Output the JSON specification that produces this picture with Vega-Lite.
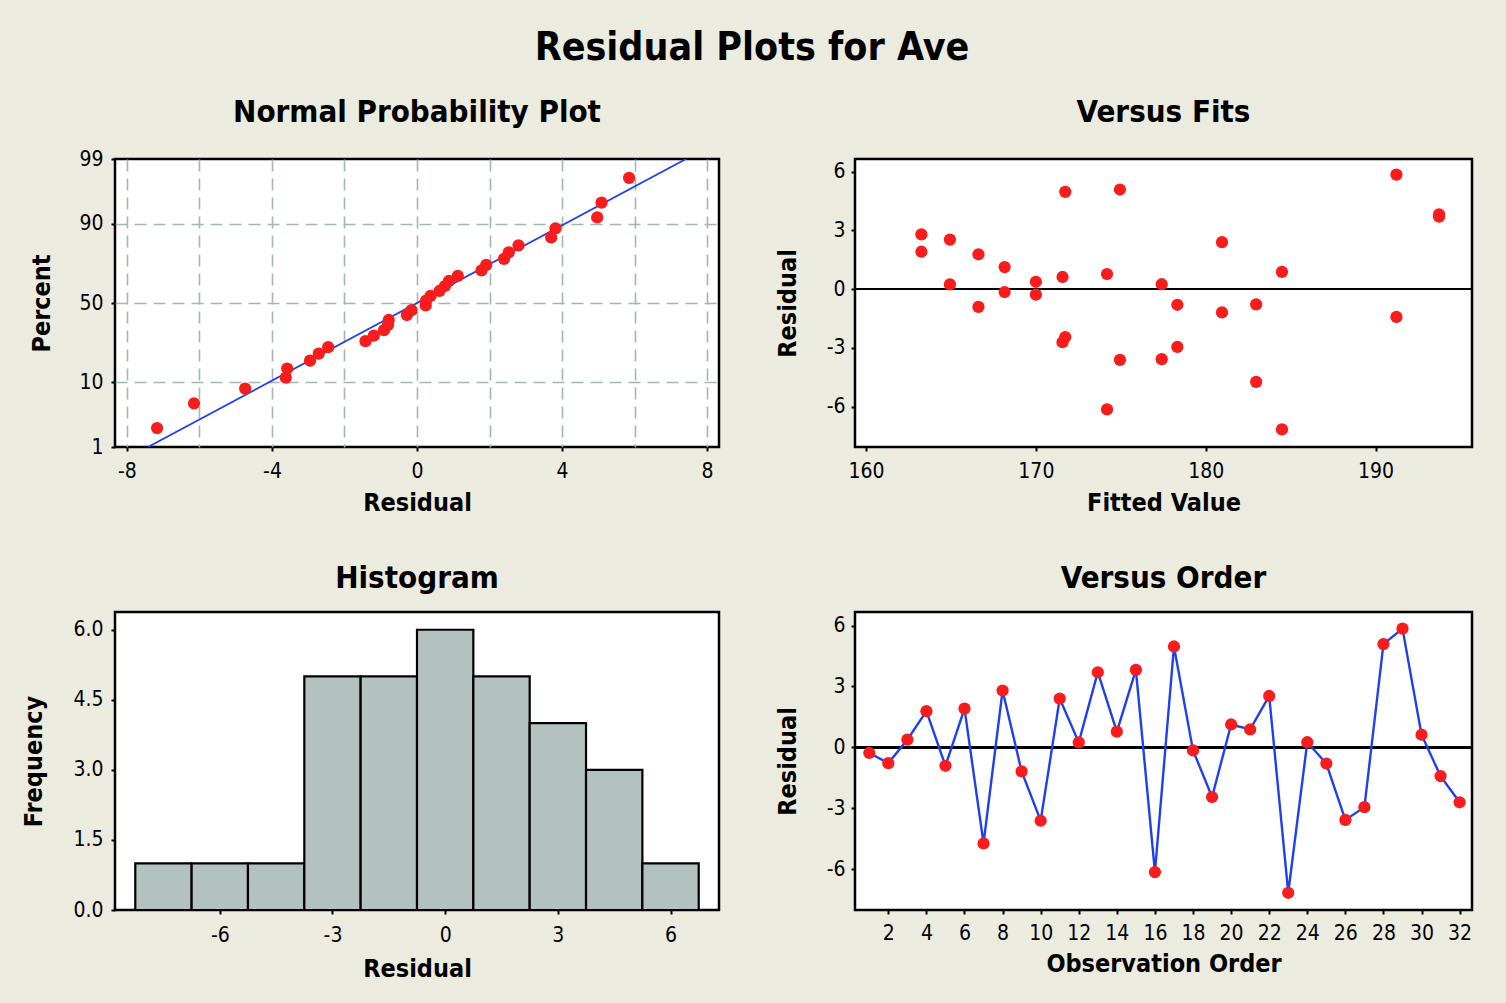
{
  "$schema": "https://vega.github.io/schema/vega-lite/v6.json",
  "background": "#ECEBE0",
  "padding": {"left": 19, "top": 28, "right": 34, "bottom": 22},
  "title": {"text": "Residual Plots for Ave", "fontSize": 39, "fontWeight": "bold", "color": "#000000", "anchor": "middle", "frame": "group", "baseline": "alphabetic", "offset": -3, "dx": 637},
  "config": {
    "font": "DejaVu Sans Condensed, DejaVu Sans, sans-serif",
    "view": {"stroke": "#000000", "strokeWidth": 2.5, "fill": "#FFFFFF"},
    "axis": {"domain": false, "grid": false, "ticks": true, "tickColor": "#000000", "tickSize": 4, "tickWidth": 2, "labelFontSize": 21, "labelColor": "#000000", "titleFontSize": 25, "titleFontWeight": "bold", "titleColor": "#000000", "labelFontWeight": "normal"},
    "axisBottom": {"labelBaseline": "alphabetic", "titleBaseline": "alphabetic"},
    "axisLeft": {"labelPadding": 8, "titleBaseline": "alphabetic", "titleAngle": -90},
    "title": {"fontSize": 31, "fontWeight": "bold", "color": "#000000", "frame": "group", "anchor": "middle", "baseline": "alphabetic"}
  },
  "datasets": {
    "resid": [
      {"order": 1, "fit": 170.0, "residual": -0.28, "score": -0.194},
      {"order": 2, "fit": 182.97, "residual": -0.78, "score": -0.274},
      {"order": 3, "fit": 170.0, "residual": 0.375, "score": 0.116},
      {"order": 4, "fit": 166.62, "residual": 1.78, "score": 0.526},
      {"order": 5, "fit": 166.62, "residual": -0.91, "score": -0.439},
      {"order": 6, "fit": 163.26, "residual": 1.91, "score": 0.617},
      {"order": 7, "fit": 182.97, "residual": -4.74, "score": -1.383},
      {"order": 8, "fit": 163.26, "residual": 2.8, "score": 0.931},
      {"order": 9, "fit": 180.96, "residual": -1.19, "score": -0.526},
      {"order": 10, "fit": 174.95, "residual": -3.62, "score": -1.205},
      {"order": 11, "fit": 180.96, "residual": 2.4, "score": 0.714},
      {"order": 12, "fit": 164.94, "residual": 0.24, "score": -0.039},
      {"order": 13, "fit": 193.74, "residual": 3.7, "score": 1.058},
      {"order": 14, "fit": 174.19, "residual": 0.77, "score": 0.274},
      {"order": 15, "fit": 193.74, "residual": 3.82, "score": 1.205},
      {"order": 16, "fit": 174.19, "residual": -6.15, "score": -1.621},
      {"order": 17, "fit": 171.73, "residual": 4.97, "score": 1.383},
      {"order": 18, "fit": 168.16, "residual": -0.15, "score": -0.116},
      {"order": 19, "fit": 171.73, "residual": -2.45, "score": -0.714},
      {"order": 20, "fit": 168.16, "residual": 1.125, "score": 0.439},
      {"order": 21, "fit": 184.49, "residual": 0.88, "score": 0.356},
      {"order": 22, "fit": 164.94, "residual": 2.53, "score": 0.818},
      {"order": 23, "fit": 184.49, "residual": -7.17, "score": -2.021},
      {"order": 24, "fit": 177.41, "residual": 0.25, "score": 0.039},
      {"order": 25, "fit": 178.33, "residual": -0.8, "score": -0.356},
      {"order": 26, "fit": 177.41, "residual": -3.58, "score": -1.058},
      {"order": 27, "fit": 178.33, "residual": -2.95, "score": -0.931},
      {"order": 28, "fit": 174.95, "residual": 5.09, "score": 1.621},
      {"order": 29, "fit": 191.23, "residual": 5.85, "score": 2.021},
      {"order": 30, "fit": 171.57, "residual": 0.62, "score": 0.194},
      {"order": 31, "fit": 191.23, "residual": -1.42, "score": -0.617},
      {"order": 32, "fit": 171.57, "residual": -2.71, "score": -0.818}
    ],
    "fitline": [
      {"residual": -7.42, "score": -2.326},
      {"residual": 7.42, "score": 2.326}
    ],
    "hist": [
      {"bin_start": -8.25, "bin_end": -6.75, "count": 1},
      {"bin_start": -6.75, "bin_end": -5.25, "count": 1},
      {"bin_start": -5.25, "bin_end": -3.75, "count": 1},
      {"bin_start": -3.75, "bin_end": -2.25, "count": 5},
      {"bin_start": -2.25, "bin_end": -0.75, "count": 5},
      {"bin_start": -0.75, "bin_end": 0.75, "count": 6},
      {"bin_start": 0.75, "bin_end": 2.25, "count": 5},
      {"bin_start": 2.25, "bin_end": 3.75, "count": 4},
      {"bin_start": 3.75, "bin_end": 5.25, "count": 3},
      {"bin_start": 5.25, "bin_end": 6.75, "count": 1}
    ]
  },
  "bounds": "flush",
  "columns": 2,
  "spacing": {"row": 165, "column": 136},
  "concat": [
    {
      "width": 604,
      "height": 288,
      "title": {"text": "Normal Probability Plot", "offset": 19},
      "layer": [
        {
          "data": {"name": "fitline"},
          "mark": {"type": "line", "color": "#2040F0", "strokeWidth": 1.8, "clip": true},
          "encoding": {
            "x": {"field": "residual", "type": "quantitative", "scale": {"domain": [-8.33, 8.33], "nice": false, "zero": false},
              "axis": {"title": "Residual", "values": [-8, -6, -4, -2, 0, 2, 4, 6, 8], "grid": true, "gridDash": [12, 7], "gridColor": "#A6B4B4", "gridWidth": 1.6,
                "labelExpr": "datum.value % 4 === 0 ? '' + datum.value : ''",
                "tickOpacity": {"condition": {"test": "datum.value % 4 === 0", "value": 1}, "value": 0},
                "labelPadding": 26, "titleY": 63}},
            "y": {"field": "score", "type": "quantitative", "scale": {"domain": [-2.326, 2.326], "nice": false, "zero": false},
              "axis": {"title": "Percent", "values": [-2.326, -1.2816, 0, 1.2816, 2.326], "grid": true, "gridDash": [12, 7], "gridColor": "#A6B4B4", "gridWidth": 1.6,
                "gridOpacity": {"condition": {"test": "abs(datum.value) < 2", "value": 1}, "value": 0},
                "labelExpr": "datum.value < -2 ? '1' : datum.value < -1 ? '10' : datum.value < 1 ? '50' : datum.value < 2 ? '90' : '99'",
                "titleX": -66}}
          }
        },
        {
          "data": {"name": "resid"},
          "mark": {"type": "circle", "color": "#F81C1C", "opacity": 1, "size": 150},
          "encoding": {
            "x": {"field": "residual", "type": "quantitative"},
            "y": {"field": "score", "type": "quantitative"}
          }
        }
      ]
    },
    {
      "width": 617,
      "height": 288,
      "title": {"text": "Versus Fits", "offset": 30},
      "data": {"name": "resid"},
      "layer": [
        {
          "mark": {"type": "rule", "color": "#000000", "strokeWidth": 2},
          "encoding": {"y": {"datum": 0}}
        },
        {
          "mark": {"type": "circle", "color": "#F81C1C", "opacity": 1, "size": 150},
          "encoding": {
            "x": {"field": "fit", "type": "quantitative", "scale": {"domain": [159.35, 195.68], "nice": false, "zero": false},
              "axis": {"title": "Fitted Value", "values": [160, 170, 180, 190], "labelPadding": 26, "titleY": 63}},
            "y": {"field": "residual", "type": "quantitative", "scale": {"domain": [-8.07, 6.65], "nice": false, "zero": false},
              "axis": {"title": "Residual", "values": [-6, -3, 0, 3, 6], "labelExpr": "'' + datum.value", "labelPadding": 6, "titleX": -60}}
          }
        }
      ]
    },
    {
      "width": 604,
      "height": 298,
      "title": {"text": "Histogram", "offset": 17},
      "data": {"name": "hist"},
      "mark": {"type": "rect", "fill": "#B4C2BF", "stroke": "#000000", "strokeWidth": 2.2},
      "encoding": {
        "x": {"field": "bin_start", "type": "quantitative", "scale": {"domain": [-8.79, 7.29], "nice": false, "zero": false},
          "axis": {"title": "Residual", "values": [-6, -3, 0, 3, 6], "labelExpr": "'' + datum.value", "labelPadding": 27, "titleY": 66}},
        "x2": {"field": "bin_end"},
        "y": {"field": "count", "type": "quantitative", "scale": {"domain": [0, 6.38], "nice": false},
          "axis": {"title": "Frequency", "values": [0, 1.5, 3, 4.5, 6], "format": ".1f", "titleX": -74}},
        "y2": {"datum": 0}
      }
    },
    {
      "width": 617,
      "height": 298,
      "title": {"text": "Versus Order", "offset": 17},
      "data": {"name": "resid"},
      "layer": [
        {
          "mark": {"type": "rule", "color": "#000000", "strokeWidth": 2},
          "encoding": {"y": {"datum": 0}}
        },
        {
          "mark": {"type": "line", "color": "#2040F0", "strokeWidth": 2.4},
          "encoding": {
            "x": {"field": "order", "type": "quantitative", "scale": {"domain": [0.25, 32.65], "nice": false, "zero": false},
              "axis": {"title": "Observation Order", "values": [2, 4, 6, 8, 10, 12, 14, 16, 18, 20, 22, 24, 26, 28, 30, 32], "labelPadding": 25, "titleY": 61}},
            "y": {"field": "residual", "type": "quantitative", "scale": {"domain": [-8.02, 6.67], "nice": false, "zero": false},
              "axis": {"title": "Residual", "values": [-6, -3, 0, 3, 6], "labelExpr": "'' + datum.value", "labelPadding": 6, "titleX": -60}}
          }
        },
        {
          "mark": {"type": "circle", "color": "#F81C1C", "opacity": 1, "size": 150},
          "encoding": {
            "x": {"field": "order", "type": "quantitative"},
            "y": {"field": "residual", "type": "quantitative"}
          }
        }
      ]
    }
  ]
}
